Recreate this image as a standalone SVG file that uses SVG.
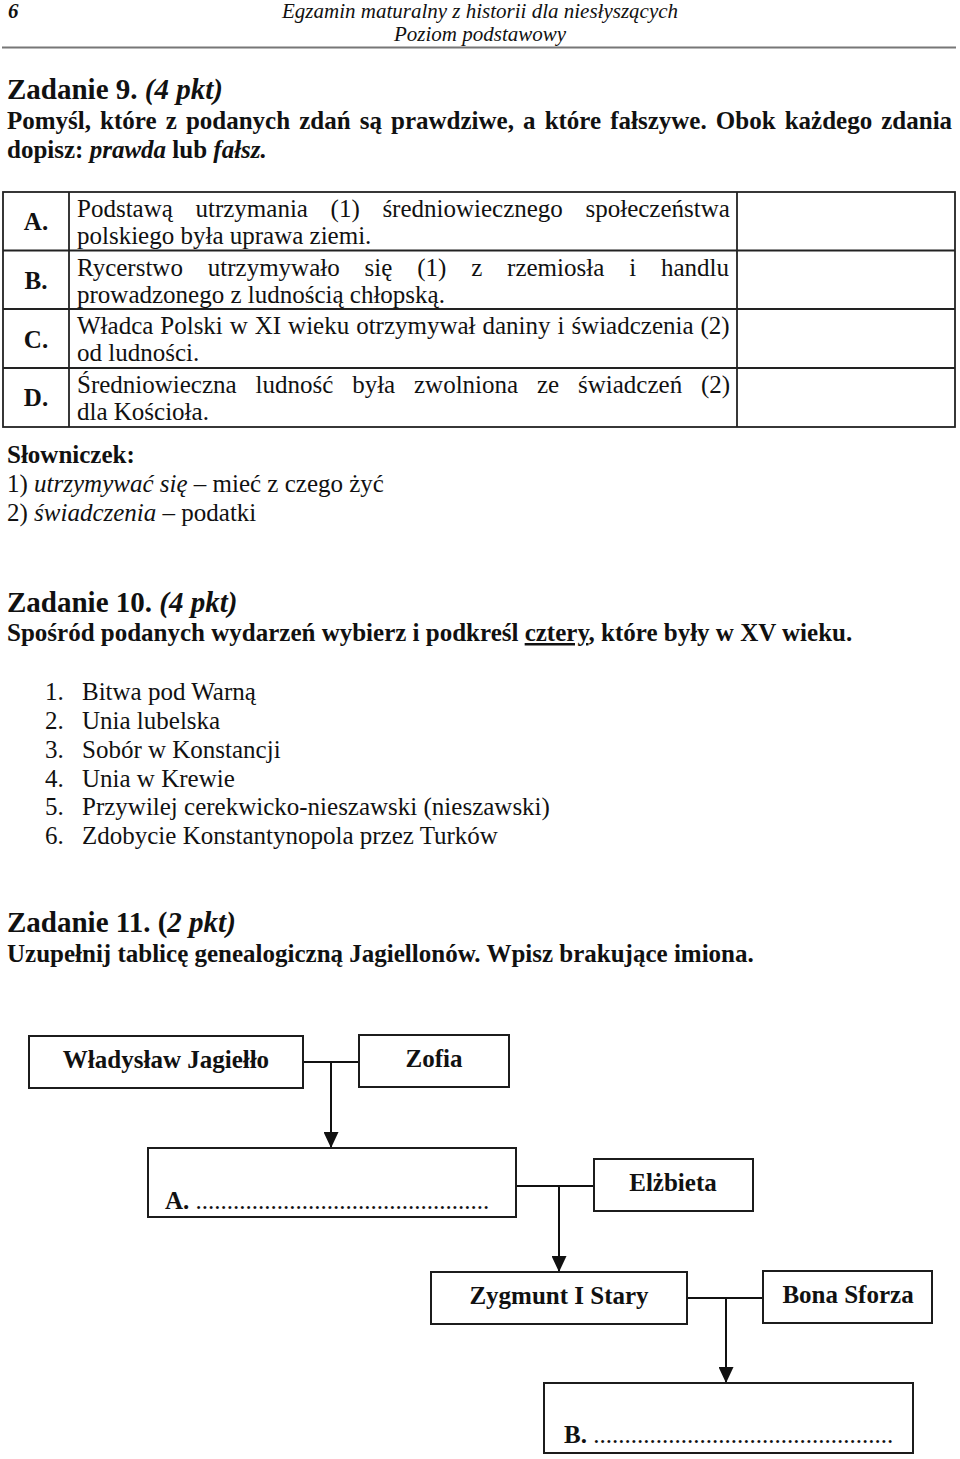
<svg xmlns="http://www.w3.org/2000/svg" width="960" height="1459" viewBox="0 0 960 1459">
<style>
text{font-family:"Liberation Serif","Times New Roman",serif;fill:#111}
.hd{font-size:21px;font-style:italic}
.h1{font-size:29px;font-weight:bold}
.b{font-size:25px;font-weight:bold}
.r{font-size:25px}
.i{font-style:italic}
.n{font-weight:normal}
.lbl{font-size:25px;font-weight:bold;text-anchor:middle}
.box{fill:#fff;stroke:#1c1c1c;stroke-width:2}
.tbl{fill:none;stroke:#222;stroke-width:1.8}
.con{fill:none;stroke:#111;stroke-width:2}
</style>
<defs>
<marker id="ah" viewBox="0 0 16 15" refX="16" refY="7.5" markerWidth="16" markerHeight="15" markerUnits="userSpaceOnUse" orient="auto">
<path d="M0,0 L16,7.5 L0,15 z" fill="#111"/>
</marker>
</defs>
<rect width="960" height="1459" fill="#fff"/>

<g id="header">
<text x="8" y="18" class="hd" font-weight="bold">6</text>
<text x="480" y="18" class="hd" text-anchor="middle">Egzamin maturalny z historii dla niesłyszących</text>
<text x="480" y="41" class="hd" text-anchor="middle">Poziom podstawowy</text>
<line x1="2" y1="47.5" x2="956" y2="47.5" stroke="#777" stroke-width="2"/>
</g>

<g id="zadanie9">
<text x="7" y="99" class="h1">Zadanie 9. <tspan class="i">(4 pkt)</tspan></text>
<text x="7" y="129" class="b" word-spacing="2.85">Pomyśl, które z podanych zdań są prawdziwe, a które fałszywe. Obok każdego zdania</text>
<text x="7" y="158" class="b">dopisz: <tspan class="i">prawda</tspan> lub <tspan class="i">fałsz.</tspan></text>
</g>

<g id="table">
<rect x="3" y="192" width="952" height="235" class="tbl"/>
<line x1="69" y1="192" x2="69" y2="427" class="tbl"/>
<line x1="737" y1="192" x2="737" y2="427" class="tbl"/>
<line x1="3" y1="250.5" x2="955" y2="250.5" class="tbl"/>
<line x1="3" y1="309" x2="955" y2="309" class="tbl"/>
<line x1="3" y1="368" x2="955" y2="368" class="tbl"/>
<g id="rowA">
<text x="36" y="230" class="lbl">A.</text>
<text x="77" y="217" class="r" word-spacing="16.4">Podstawą utrzymania (1) średniowiecznego społeczeństwa</text>
<text x="77" y="244" class="r">polskiego była uprawa ziemi.</text>
</g>
<g id="rowB">
<text x="36" y="289" class="lbl">B.</text>
<text x="77" y="275.5" class="r" word-spacing="18.6">Rycerstwo utrzymywało się (1) z rzemiosła i handlu</text>
<text x="77" y="302.5" class="r">prowadzonego z ludnością chłopską.</text>
</g>
<g id="rowC">
<text x="36" y="348" class="lbl">C.</text>
<text x="77" y="334" class="r" word-spacing="0.7">Władca Polski w XI wieku otrzymywał daniny i świadczenia (2)</text>
<text x="77" y="361" class="r">od ludności.</text>
</g>
<g id="rowD">
<text x="36" y="406" class="lbl">D.</text>
<text x="77" y="392.5" class="r" word-spacing="12.6">Średniowieczna ludność była zwolniona ze świadczeń (2)</text>
<text x="77" y="419.5" class="r">dla Kościoła.</text>
</g>
</g>

<g id="slowniczek">
<text x="7" y="463" class="b">Słowniczek:</text>
<text x="7" y="492" class="r">1) <tspan class="i">utrzymywać się</tspan> – mieć z czego żyć</text>
<text x="7" y="521" class="r">2) <tspan class="i">świadczenia</tspan> – podatki</text>
</g>

<g id="zadanie10">
<text x="7" y="612" class="h1">Zadanie 10. <tspan class="i">(4 pkt)</tspan></text>
<text x="7" y="641" class="b">Spośród podanych wydarzeń wybierz i podkreśl <tspan text-decoration="underline">cztery</tspan>, które były w XV wieku.</text>
<text x="45" y="700" class="r">1.</text><text x="82" y="700" class="r">Bitwa pod Warną</text>
<text x="45" y="729" class="r">2.</text><text x="82" y="729" class="r">Unia lubelska</text>
<text x="45" y="758" class="r">3.</text><text x="82" y="758" class="r">Sobór w Konstancji</text>
<text x="45" y="787" class="r">4.</text><text x="82" y="787" class="r">Unia w Krewie</text>
<text x="45" y="815" class="r">5.</text><text x="82" y="815" class="r">Przywilej cerekwicko-nieszawski (nieszawski)</text>
<text x="45" y="844" class="r">6.</text><text x="82" y="844" class="r">Zdobycie Konstantynopola przez Turków</text>
</g>

<g id="zadanie11">
<text x="7" y="932" class="h1">Zadanie 11. (<tspan class="i">2 pkt)</tspan></text>
<text x="7" y="962" class="b">Uzupełnij tablicę genealogiczną Jagiellonów. Wpisz brakujące imiona.</text>
</g>

<g id="connectors">
<polyline points="303,1062 359,1062" class="con"/>
<line x1="331" y1="1062" x2="331" y2="1148" class="con" marker-end="url(#ah)"/>
<polyline points="516,1186 594,1186" class="con"/>
<line x1="559" y1="1186" x2="559" y2="1272" class="con" marker-end="url(#ah)"/>
<polyline points="687,1298 763,1298" class="con"/>
<line x1="726" y1="1298" x2="726" y2="1383" class="con" marker-end="url(#ah)"/>
</g>

<g id="n-wladyslaw">
<rect x="29" y="1036" width="274" height="52" class="box"/>
<text x="166" y="1068" class="lbl">Władysław Jagiełło</text>
</g>
<g id="n-zofia">
<rect x="359" y="1035" width="150" height="52" class="box"/>
<text x="434" y="1067" class="lbl">Zofia</text>
</g>
<g id="n-a">
<rect x="148" y="1148" width="368" height="69" class="box"/>
<text x="165" y="1209" class="b">A. <tspan class="n">...............................................</tspan></text>
</g>
<g id="n-elzbieta">
<rect x="594" y="1159" width="159" height="52" class="box"/>
<text x="673" y="1191" class="lbl">Elżbieta</text>
</g>
<g id="n-zygmunt">
<rect x="431" y="1272" width="256" height="52" class="box"/>
<text x="559" y="1304" class="lbl">Zygmunt I Stary</text>
</g>
<g id="n-bona">
<rect x="763" y="1271" width="169" height="52" class="box"/>
<text x="848" y="1303" class="lbl">Bona Sforza</text>
</g>
<g id="n-b">
<rect x="544" y="1383" width="369" height="70" class="box"/>
<text x="564" y="1443" class="b">B. <tspan class="n">................................................</tspan></text>
</g>
</svg>
